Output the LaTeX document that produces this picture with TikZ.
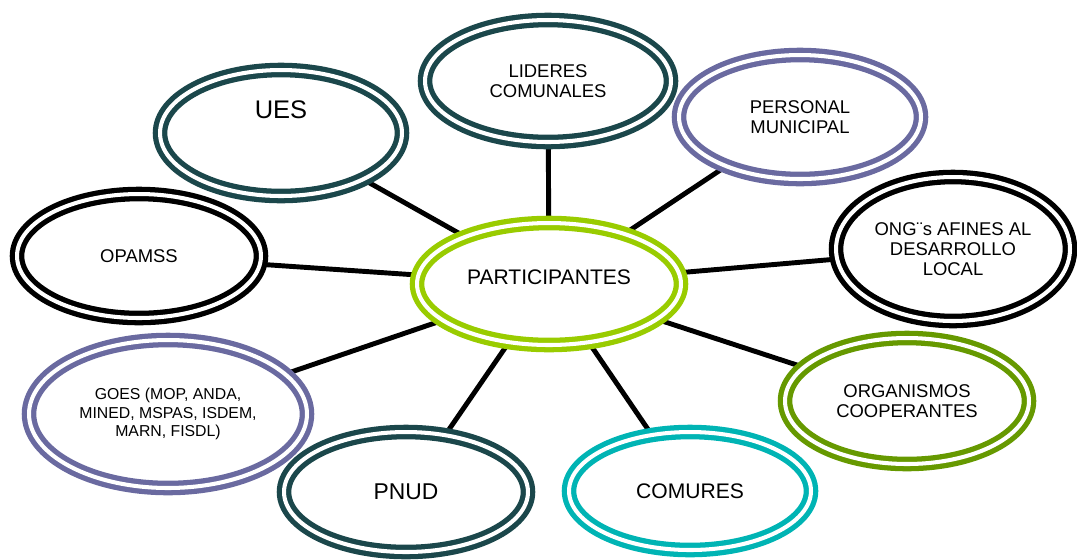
\documentclass[tikz,border=0pt]{standalone}
\usepackage{fontspec}
\setmainfont{Liberation Sans}
\usetikzlibrary{shapes.geometric,backgrounds}

\definecolor{darkteal}{HTML}{1B474B}
\definecolor{lilac}{HTML}{6A6AA0}
\definecolor{limegreen}{HTML}{99CC00}
\definecolor{leafgreen}{HTML}{669900}
\definecolor{aquablue}{HTML}{00B4B4}

\begin{document}
\begin{tikzpicture}[%
      x=0.02cm, y=-0.02cm,
      ring/.style={ellipse, draw=#1, double=white, line width=3pt,
        double distance=2.3pt, fill=white, inner sep=0pt, align=center,
        font=\fontsize{10.5}{11.5}\selectfont},
      link/.style={line width=2.8pt, black},
      ]
      \useasboundingbox (0,0) rectangle (1077,559);

      \node (parti) [ring=limegreen, minimum width=5.28cm, minimum height=2.44cm] at (549,284) {};
      \node (partiText) [font=\fontsize{12}{14}\selectfont] at (549,277) {PARTICIPANTES};

      \node (lideres) [ring=darkteal, minimum width=4.92cm, minimum height=2.44cm] at (548,81) {LIDERES\\COMUNALES};
      \node (ues) [ring=darkteal, minimum width=4.84cm, minimum height=2.52cm] at (281,133) {};
      \node (uesText) [font=\fontsize{14.5}{16}\selectfont] at (281,110) {UES};
      \node (personal) [ring=lilac, minimum width=4.84cm, minimum height=2.48cm] at (800,117) {PERSONAL\\MUNICIPAL};
      \node (opamss) [ring=black, minimum width=4.88cm, minimum height=2.48cm] at (139,256) {OPAMSS};
      \node (ong) [ring=black, minimum width=4.68cm, minimum height=2.88cm] at (953,249) {ONG¨s AFINES AL\\DESARROLLO\\LOCAL};
      \node (goes) [ring=lilac, minimum width=5.56cm, minimum height=2.96cm,
        font=\fontsize{9}{10.5}\selectfont] at (168,414) {GOES (MOP, ANDA,\\MINED, MSPAS, ISDEM,\\MARN, FISDL)};
      \node (organismos) [ring=leafgreen, minimum width=4.88cm, minimum height=2.52cm] at (907,401) {ORGANISMOS\\COOPERANTES};
      \node (pnud) [ring=darkteal, minimum width=4.88cm, minimum height=2.40cm,
        font=\fontsize{13}{15}\selectfont] at (406,492) {PNUD};
      \node (comures) [ring=aquablue, minimum width=4.84cm, minimum height=2.36cm,
        font=\fontsize{12}{14}\selectfont] at (690,491) {COMURES};

      \begin{scope}[on background layer]
        \foreach \n in {lideres,ues,personal,opamss,ong,goes,organismos,pnud,comures}
          \draw [link] (parti) -- (\n);
      \end{scope}
\end{tikzpicture}
\end{document}
